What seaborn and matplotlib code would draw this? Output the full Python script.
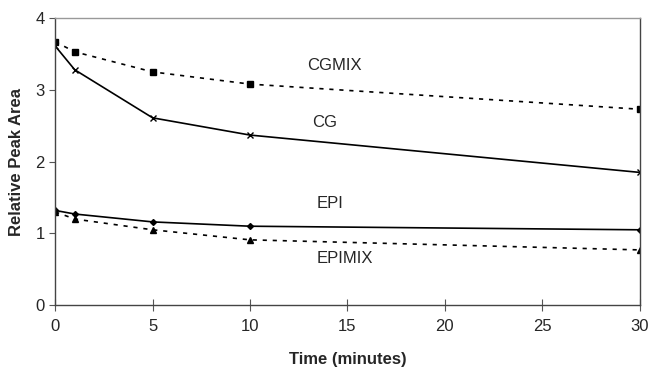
import matplotlib
matplotlib.use("Agg")
import matplotlib.pyplot as plt
import seaborn as sns
import pandas as pd

time = [0, 1, 5, 10, 30]
cgmix = [3.67, 3.53, 3.25, 3.08, 2.73]
cg = [3.61, 3.28, 2.61, 2.37, 1.85]
epi = [1.32, 1.27, 1.16, 1.10, 1.05]
epimix = [1.30, 1.20, 1.05, 0.91, 0.77]

sns.set_style("white")
plt.rcParams['font.family'] = ['Liberation Sans', 'DejaVu Sans']

fig = plt.figure(figsize=(6.5, 3.69), dpi=100)
ax = fig.add_axes([0.085, 0.173, 0.899, 0.778])

series = [
    ("CGMIX", cgmix, "s", (0, (2.5, 3.5)), 4),
    ("CG", cg, "x", "-", 5),
    ("EPI", epi, "D", "-", 3),
    ("EPIMIX", epimix, "^", (0, (2.5, 3.5)), 4),
]
for name, vals, mk, ls, ms in series:
    df = pd.DataFrame({"t": time, "v": vals})
    sns.lineplot(data=df, x="t", y="v", ax=ax, color="black", marker=mk,
                 markersize=ms, linestyle=ls, linewidth=1.2,
                 markeredgecolor="black", markeredgewidth=1)

ax.set_xlim(0, 30)
ax.set_ylim(0, 4)
ax.set_xticks([0, 5, 10, 15, 20, 25, 30])
ax.set_yticks([0, 1, 2, 3, 4])
ax.tick_params(axis="both", which="major", bottom=True, left=True, labelsize=12,
               length=4, width=0.8, color="#555555", direction="out")
ax.tick_params(axis="x", direction="inout", length=8, pad=6)
for s in ax.spines.values():
    s.set_color("#444444")
    s.set_linewidth(1)
ax.spines["top"].set_color("#999999")

ax.set_xlabel("Time (minutes)", fontsize=12, fontweight="bold", labelpad=13)
ax.set_ylabel("Relative Peak Area", fontsize=12, fontweight="bold", labelpad=8)

labels = [("CGMIX", 12.95, 3.34), ("CG", 13.2, 2.55), ("EPI", 13.4, 1.42), ("EPIMIX", 13.4, 0.655)]
for txt, x, y in labels:
    ax.text(x, y, txt, fontsize=12, ha="left", va="center")

fig.savefig("out.png", dpi=100)
